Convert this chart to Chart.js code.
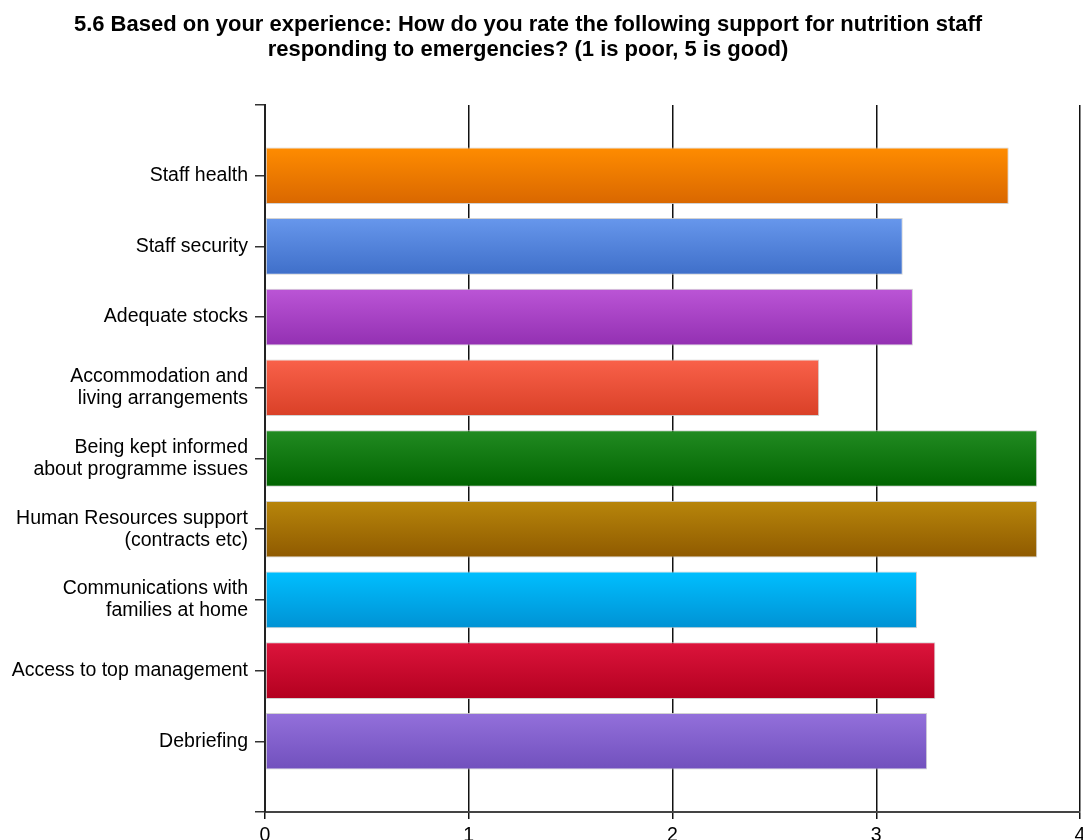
<!DOCTYPE html>
<html>
<head>
<meta charset="utf-8">
<title>Support for nutrition staff responding to emergencies</title>
<script src="https://cdn.jsdelivr.net/npm/chart.js@4.4.1/dist/chart.umd.min.js"></script>
<style>
  html, body { margin: 0; padding: 0; background: #fff; overflow: hidden; }
  #wrap { width: 1083px; height: 860px; }
</style>
</head>
<body>
<div id="wrap"><canvas id="chart" width="1083" height="860"></canvas></div>
<script>
// Survey question 5.6: mean rating per support area (scale 1-5)
const titleLines = [
  '5.6 Based on your experience: How do you rate the following support for nutrition staff',
  'responding to emergencies? (1 is poor, 5 is good)'
];

const categories = [
  'Staff health',
  'Staff security',
  'Adequate stocks',
  ['Accommodation and', 'living arrangements'],
  ['Being kept informed', 'about programme issues'],
  ['Human Resources support', '(contracts etc)'],
  ['Communications with', 'families at home'],
  'Access to top management',
  'Debriefing'
];

const ratings = [3.65, 3.13, 3.18, 2.72, 3.79, 3.79, 3.20, 3.29, 3.25];

const xTicks = [0, 1, 2, 3, 4];

// light (top) and dark (bottom) shade of each bar
const topColors    = ['#ff8c00', '#6797ec', '#bb55d6', '#f9614a', '#228b22', '#b8860b', '#00bfff', '#dc143c', '#9370db'];
const bottomColors = ['#d96700', '#3f6fc9', '#9330b2', '#d94027', '#006400', '#8f5a00', '#0092d4', '#b3001f', '#7150bd'];

// one empty slot above and below the bars gives the axis its end ticks
const labels = [''].concat(categories, ['']);
const values = [null].concat(ratings, [null]);

const FONT = '"Liberation Sans", Arial, sans-serif';

function barGradient(ctx) {
  const i = ctx.dataIndex - 1;
  const chart = ctx.chart;
  if (i < 0 || i >= ratings.length) return '#ccc';
  const y = chart.scales.y;
  if (!chart.chartArea || !y) return topColors[i];
  const yc = y.getPixelForValue(ctx.dataIndex);
  const half = Math.abs(y.getPixelForValue(1) - y.getPixelForValue(0)) * 0.4;
  const g = chart.ctx.createLinearGradient(0, yc - half, 0, yc + half);
  g.addColorStop(0, topColors[i]);
  g.addColorStop(1, bottomColors[i]);
  return g;
}

// two-line heading above the plot
const headingPlugin = {
  id: 'heading',
  afterDraw(chart) {
    const c = chart.ctx;
    c.save();
    c.fillStyle = '#000';
    c.font = 'bold 22px ' + FONT;
    c.textAlign = 'center';
    c.textBaseline = 'middle';
    c.fillText(titleLines[0], 528, 25);
    c.fillText(titleLines[1], 528, 50);
    c.restore();
  }
};

new Chart(document.getElementById('chart'), {
  type: 'bar',
  data: {
    labels: labels,
    datasets: [{
      data: values,
      backgroundColor: barGradient,
      borderColor: 'rgba(205,205,205,0.9)',
      borderWidth: 1,
      borderSkipped: false,
      barPercentage: 0.8,
      categoryPercentage: 1
    }]
  },
  options: {
    indexAxis: 'y',
    responsive: false,
    animation: false,
    devicePixelRatio: 1,
    layout: { padding: { top: 105, right: 3, left: 0, bottom: 0 } },
    plugins: {
      legend: { display: false },
      title: { display: false },
      tooltip: { enabled: false }
    },
    scales: {
      x: {
        type: 'linear',
        min: 0,
        max: 4,
        afterBuildTicks(scale) {
          scale.ticks = xTicks.map(v => ({ value: v }));
        },
        afterFit(scale) {
          scale.height = 48;
          scale.paddingLeft = 0;
          scale.paddingRight = 0;
        },
        grid: {
          color: '#111',
          lineWidth: 1.5,
          tickLength: 7,
          drawTicks: true
        },
        border: { color: '#444', width: 2 },
        ticks: {
          color: '#000',
          padding: 5,
          font: { family: FONT, size: 19.5 }
        }
      },
      y: {
        type: 'category',
        offset: false,
        afterFit(scale) {
          scale.width = 265;
        },
        grid: {
          offset: false,
          drawOnChartArea: false,
          drawTicks: true,
          tickLength: 10,
          color: '#333',
          lineWidth: 1.5
        },
        border: { color: '#222', width: 2 },
        ticks: {
          color: '#000',
          padding: 7,
          autoSkip: false,
          font: { family: FONT, size: 19.5, lineHeight: 1.13 }
        }
      }
    }
  },
  plugins: [headingPlugin]
});
</script>
</body>
</html>
